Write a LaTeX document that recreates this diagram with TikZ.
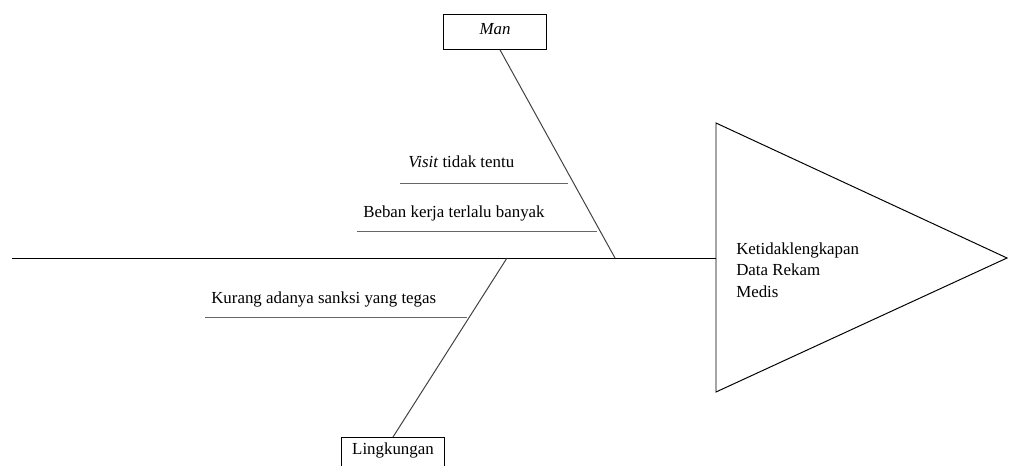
\documentclass[tikz,border=0pt]{standalone}
\usepackage{fontspec}
\setmainfont{Liberation Serif}
\usetikzlibrary{positioning}

\begin{document}
\begin{tikzpicture}[x=0.025cm,y=-0.025cm,font=\fontsize{12}{15}\selectfont]
\clip (0,0) rectangle (1009,466);
% head of the fish
\coordinate (tail) at (12,258);
\coordinate (headtop) at (716,123);
\coordinate (headtip) at (1007,258);
\coordinate (headbot) at (716,392);
\draw[line width=0.7pt] (headtop) -- (headtip) -- (headbot) -- cycle;
\node[anchor=base west,inner sep=0pt,align=left] (effect) at (736,297)
    {Ketidaklengkapan\\Data Rekam\\Medis};
\begin{scope}[every node/.style={rectangle,draw,line width=0.7pt,inner xsep=0pt,inner ysep=4pt}]
    \node[anchor=north,minimum width=2.55cm,text height=10pt,text depth=6.8pt] (man) at (495,14) {\textit{Man}};
    \node[anchor=north,minimum width=2.575cm,text height=8pt,text depth=12pt] (ling) at (393,437) {Lingkungan};
\end{scope}
\coordinate (manjoint) at (615,258);
\coordinate (lingjoint) at (507,258);
\coordinate (visitL) at (400,183);
\coordinate (visitR) at (568,183);
\coordinate (bebanL) at (357,231);
\coordinate (bebanR) at (597,231);
\coordinate (kurangL) at (205,317);
\coordinate (kurangR) at (467,317);
\begin{scope}[every node/.style={anchor=base west,inner sep=0pt}]
    \node (visit) at (408,168) {\textit{Visit} tidak tentu};
    \node (beban) at (363,218) {Beban kerja terlalu banyak};
    \node (kurang) at (211,303) {Kurang adanya sanksi yang tegas};
\end{scope}
\begin{scope}[every path/.style={draw=black!75,line width=0.7pt}]
    \path (tail) edge[draw=black] (headtop |- tail);
    \path ([xshift=0.125cm]man.south) edge (manjoint);
    \path (lingjoint) edge (ling.north);
    \path (visitL) edge[draw=black!60] (visitR);
    \path (bebanL) edge[draw=black!60] (bebanR);
    \path (kurangL) edge[draw=black!60] (kurangR);
\end{scope}
\end{tikzpicture}
\end{document}
